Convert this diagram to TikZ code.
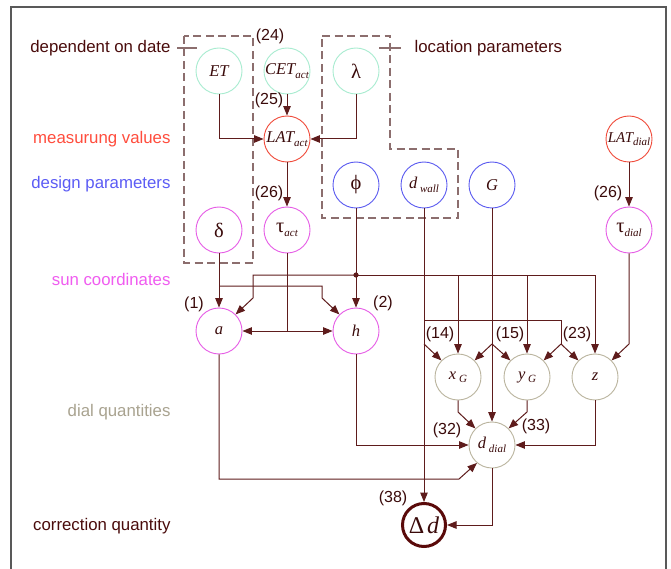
\documentclass[tikz,border=0pt]{standalone}
\usepackage{fontspec}
\setmainfont{Liberation Serif}
\newfontfamily\lblfont{Liberation Sans}
\usetikzlibrary{arrows.meta}
\definecolor{txt}{HTML}{3A0A0A}
\definecolor{lc}{HTML}{5E1C1C}
\definecolor{dashc}{HTML}{8C6E6E}
\definecolor{cgreen}{HTML}{A8ECD0}
\definecolor{cred}{HTML}{F04A3A}
\definecolor{cblue}{HTML}{5A5AF0}
\definecolor{cmag}{HTML}{E65CE6}
\definecolor{cgray}{HTML}{BAB49E}
\definecolor{cdark}{HTML}{5A0A0A}
\definecolor{tdark}{HTML}{4A0C0C}
\definecolor{tred}{HTML}{FF4D3D}
\definecolor{tblue}{HTML}{5C5CF5}
\definecolor{tmag}{HTML}{F05CF0}
\definecolor{tgray}{HTML}{A9A390}
\newcommand\sbs[1]{\raisebox{-0.45ex}{\fontsize{11}{12}\selectfont\itshape #1}}
\newcommand\gk[1]{{\upshape\fontsize{20.5}{21}\selectfont #1}}
\begin{document}
\begin{tikzpicture}[x=1pt,y=-1pt,
  qnode/.style={circle, minimum size=46pt, inner sep=0pt, line width=0.9pt,
    font=\fontsize{16.5}{18}\selectfont\itshape, text=txt},
  conn/.style={draw=lc, line width=1pt},
  arr/.style={conn, -{Triangle[length=9.5pt,width=7.5pt]}},
  lbl/.style={font=\lblfont\fontsize{16.8}{18}\selectfont, anchor=mid east},
  num/.style={font=\lblfont\fontsize{16}{18}\selectfont, text=txt},
  dbox/.style={draw=dashc, line width=1.4pt, dash pattern=on 8pt off 4.5pt}]
\useasboundingbox (0,0) rectangle (671,569);
\fill[white] (0,0) rectangle (671,569);
\draw[draw=black!65, line width=1.5pt] (11,590) -- (11,7) -- (666,7) -- (666,590);

% dashed groups
\draw[dbox] (184,36) rectangle (253,263);
\draw[dbox] (322,36) -- (390,36) -- (390,149) -- (458,149) -- (458,218) -- (322,218) -- cycle;
\draw[draw=dashc, line width=1.2pt] (177,48) -- (197,48);
\draw[draw=dashc, line width=1.2pt] (379,48) -- (401,48);

% row labels
\node[lbl, text=tdark] (Ldate) at (174,50) {dependent on date};
\node[lbl, text=tred] (Lmeas) at (174,141) {measurung values};
\node[lbl, text=tblue] (Ldes) at (174,186) {design parameters};
\node[lbl, text=tmag] (Lsun) at (174,283) {sun coordinates};
\node[lbl, text=tgray] (Ldial) at (174,414) {dial quantities};
\node[lbl, text=tdark] (Lcorr) at (174,528) {correction quantity};
\node[lbl, text=tdark, anchor=mid west] (Lloc) at (411,50) {location parameters};

% nodes
\node[qnode, draw=cgreen] (ET) at (219,71) {ET};
\node[qnode, draw=cgreen] (CET) at (287,71) {CET\sbs{act}};
\node[qnode, draw=cgreen] (lam) at (356,71) {\gk{λ}};
\node[qnode, draw=cred] (LATa) at (287,139) {LAT\sbs{act}};
\node[qnode, draw=cred] (LATd) at (629,139) {\fontsize{15}{16}\selectfont LAT\sbs{dial}};
\node[qnode, draw=cblue] (phi) at (356,185) {\gk{ϕ}};
\node[qnode, draw=cblue] (dwall) at (424,185) {d\,\sbs{wall}};
\node[qnode, draw=cblue] (G) at (492,185) {G};
\node[qnode, draw=cmag] (delta) at (219,230) {\gk{δ}};
\node[qnode, draw=cmag] (taua) at (287,230) {\gk{τ}\sbs{act}};
\node[qnode, draw=cmag] (taud) at (629,230) {\gk{τ}\sbs{dial}};
\node[qnode, draw=cmag] (a) at (219,331) {a};
\node[qnode, draw=cmag] (h) at (356,331) {h};
\node[qnode, draw=cgray] (xG) at (458,377) {x\,\sbs{G}};
\node[qnode, draw=cgray] (yG) at (527,377) {y\,\sbs{G}};
\node[qnode, draw=cgray] (z) at (595,377) {z};
\node[qnode, draw=cgray] (dd) at (492,445) {d\,\sbs{dial}};
\node[qnode, draw=cdark, line width=3pt, minimum size=43pt] (Dd) at (424,525) {{\upshape\fontsize{24}{26}\selectfont Δ}\,{\fontsize{24}{26}\selectfont d}};

% equation numbers
\node[num] (n24) at (270,36) {(24)};
\node[num] (n25) at (269,100) {(25)};
\node[num] (n26a) at (269,193) {(26)};
\node[num] (n26b) at (608,193) {(26)};
\node[num] (n1) at (194,304) {(1)};
\node[num] (n2) at (383,303) {(2)};
\node[num] (n14) at (440,334) {(14)};
\node[num] (n15) at (510,334) {(15)};
\node[num] (n23) at (577,334) {(23)};
\node[num] (n32) at (447,430) {(32)};
\node[num] (n33) at (536,426) {(33)};
\node[num] (n38) at (393,498) {(38)};

% junction coordinates
\coordinate (jp) at (356,275);
\coordinate (jt) at (287,331);
\coordinate (jw) at (424,320);
\coordinate (jwx) at (424,344);
\coordinate (jg) at (492,344);

% connectors
\draw[arr] (ET.south) |- (LATa.west);
\draw[arr] (lam.south) |- (LATa.east);
\draw[arr] (CET.south) -- (LATa.north);
\draw[arr] (LATa.south) -- (taua.north);
\draw[arr] (LATd.south) -- (taud.north);

\draw[arr] (delta.south) -- (a.north);
\draw[arr] (219,286) -- (322,286) -- (322,298) -- (h.135);

\draw[arr] (phi.south) -- (h.north);
\fill[lc] (jp) circle (2.6pt);
\draw[arr] (jp) -- (253,275) -- (253,298) -- (a.45);
\draw[arr] (jp) -| (z.north);
\draw[arr] (jp -| xG.north) -- (xG.north);
\draw[arr] (jp -| yG.north) -- (yG.north);

\draw[conn] (taua.south) -- (jt);
\draw[arr] (jt) -- (a.east);
\draw[arr] (jt) -- (h.west);

\draw[arr] (dwall.south) -- (Dd.north);
\draw[conn] (jw) -- (561,320) -- (561,344);
\draw[arr] (561,344) -- (yG.45);
\draw[arr] (561,344) -- (z.135);
\draw[arr] (jwx) -- (xG.135);

\draw[arr] (G.south) -- (dd.north);
\draw[arr] (jg) -- (xG.45);
\draw[arr] (jg) -- (yG.135);

\draw[arr] (taud.south) -- (629,344) -- (z.45);

\draw[arr] (xG.south) -- (458,412) -- (dd.135);
\draw[arr] (yG.south) -- (527,412) -- (dd.45);
\draw[arr] (h.south) |- (dd.west);
\draw[arr] (z.south) |- (dd.east);
\draw[arr] (a.south) -- (219,479) -- (459,479) -- (dd.-130);
\draw[arr] (dd.south) |- (Dd.east);
\end{tikzpicture}
\end{document}
